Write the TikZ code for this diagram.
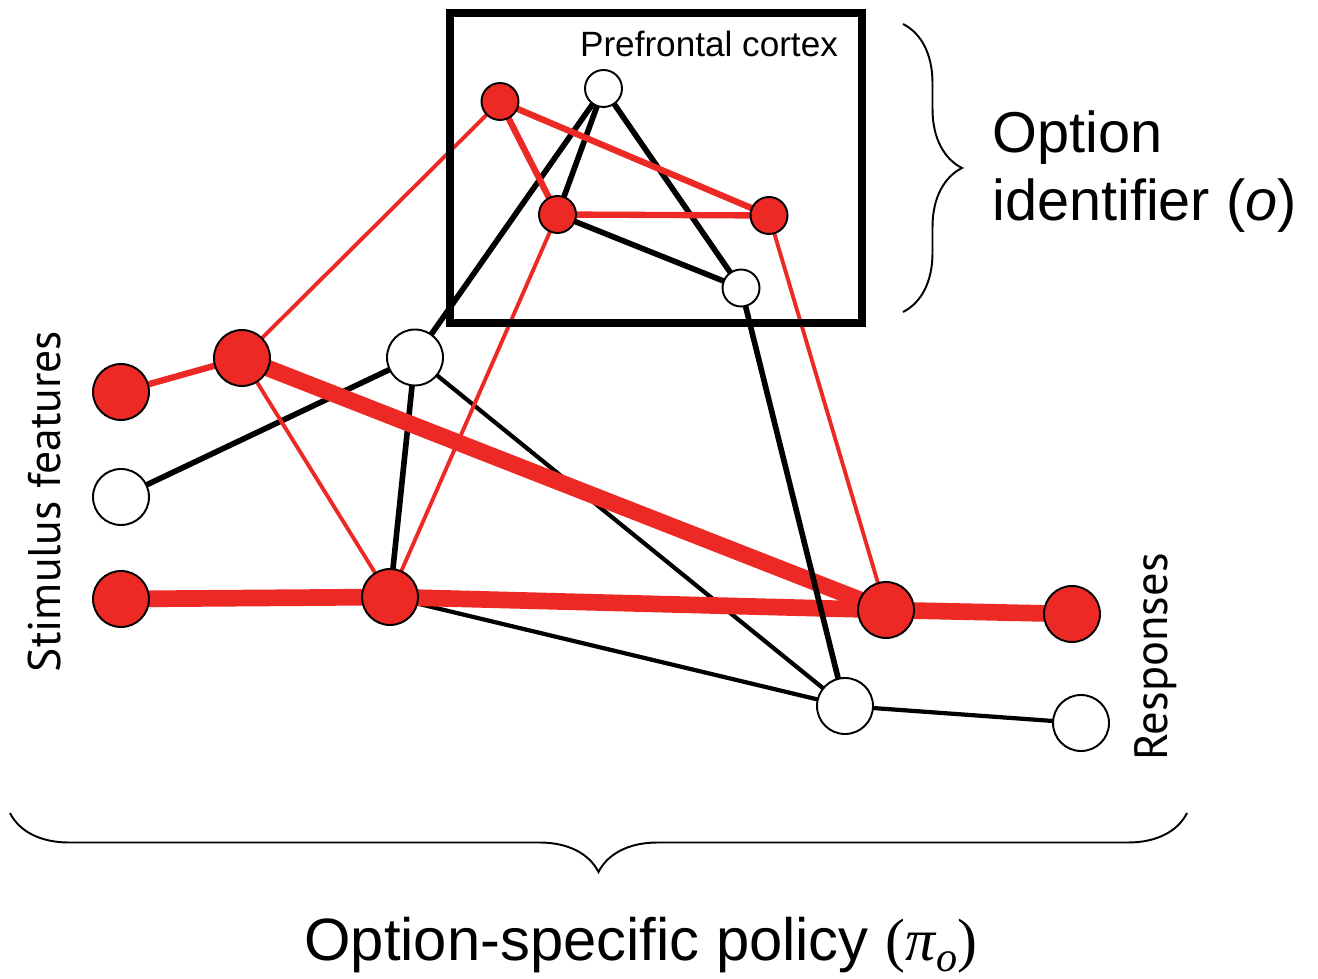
\documentclass[tikz,border=0pt]{standalone}
\usepackage{fontspec}
\setmainfont{Liberation Sans}
\newfontfamily\myriad{PT Sans}
\newfontfamily\timesfont{Liberation Serif}
\usetikzlibrary{backgrounds,decorations.pathreplacing}
\definecolor{unitred}{RGB}{236,41,36}

\begin{document}
\begin{tikzpicture}[
		unit/.style={circle, draw=black, line width=1.1pt, inner sep=0pt, minimum size=1.12cm},
		pfcunit/.style={unit, minimum size=0.74cm},
		on/.style={fill=unitred},
		off/.style={fill=white},
		redfat/.style={unitred, line width=9.5pt},
		redmid/.style={unitred, line width=3.6pt},
		redthin/.style={unitred, line width=2.2pt},
		blk/.style={black, line width=3.2pt},
		blkthin/.style={black, line width=2.4pt},
		curly/.style={decorate, decoration={brace, amplitude=1.18cm}, line width=1.1pt}
	]
	\useasboundingbox (0, 0) rectangle (26.36, -19.58);
	%stimulus features
	\node[unit, on]  (s1) at (2.42, -7.84) {};
	\node[unit, off] (s2) at (2.42, -9.94) {};
	\node[unit, on]  (s3) at (2.42, -11.98) {};
	%hidden
	\node[unit, on]  (h1) at (4.84, -7.16) {};
	\node[unit, off] (h2) at (8.30, -7.15) {};
	\node[unit, on]  (h3) at (7.80, -11.94) {};
	%prefrontal cortex
	\node[pfcunit, on]  (p1) at (10.00, -2.03) {};
	\node[pfcunit, off] (p2) at (12.07, -1.77) {};
	\node[pfcunit, on]  (p3) at (11.15, -4.29) {};
	\node[pfcunit, on]  (p4) at (15.38, -4.31) {};
	\node[pfcunit, off] (p5) at (14.82, -5.76) {};
	%output
	\node[unit, on]  (o1) at (17.72, -12.20) {};
	\node[unit, off] (o2) at (16.90, -14.12) {};
	%responses
	\node[unit, on]  (r1) at (21.44, -12.28) {};
	\node[unit, off] (r2) at (21.62, -14.46) {};
	%connections
	\begin{scope}[on background layer]
		\foreach \a/\b in {s2/h2, h2/h3, h2/p2, p3/p2, p2/p5, p3/p5}
			\draw[blk] (\a.center) -- (\b.center);
		\foreach \a/\b in {h2/o2, h3/o2, o2/r2}
			\draw[blkthin] (\a.center) -- (\b.center);
		\foreach \a/\b in {h1/p1, h1/h3, h3/p3, p4/o1}
			\draw[redthin] (\a.center) -- (\b.center);
		\foreach \a/\b in {s1/h1, p1/p3, p1/p4, p3/p4}
			\draw[redmid] (\a.center) -- (\b.center);
		\foreach \a/\b in {s3/h3, h3/o1, h1/o1, o1/r1}
			\draw[redfat] (\a.center) -- (\b.center);
		\draw[blk] (p5.center) -- (o2.center);
	\end{scope}
	%box
	\draw[line width=5pt] (9.00, -0.26) rectangle (17.24, -6.46);
	\node[anchor=base, font=\fontsize{20}{22}\selectfont] (pfclabel) at (14.18, -1.14) {Prefrontal cortex};
	%braces
	\draw[curly] (18.06, -0.48) -- (18.06, -6.24);
	\node[anchor=north west, align=left, inner sep=0pt, font=\fontsize{32.8}{39}\selectfont] (optid) at (19.84, -2.20) {Option\\identifier (\textit{o})};
	\draw[curly] (23.74, -16.26) -- (0.20, -16.26);
	\node[anchor=base, font=\fontsize{34}{40}\selectfont] (policy) at (12.82, -19.2) {Option-specific policy {\timesfont(\textit{π}\raisebox{-0.2em}{\fontsize{24}{26}\selectfont\textit{o}})}};
	%axis labels
	\node[rotate=90, font=\myriad\fontsize{26}{30}\selectfont] (stim) at (0.90, -10.03) {Stimulus features};
	\node[rotate=90, font=\myriad\fontsize{26.5}{30}\selectfont] (resp) at (23.12, -13.14) {Responses};
\end{tikzpicture}
\end{document}
